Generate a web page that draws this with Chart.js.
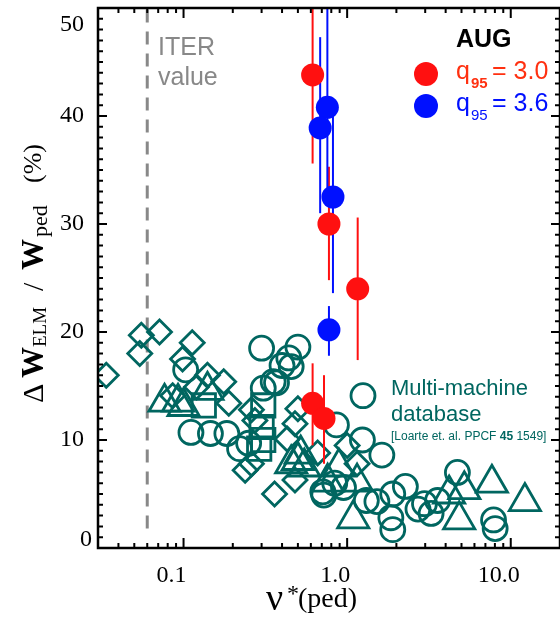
<!DOCTYPE html>
<html>
<head>
<meta charset="utf-8">
<script src="https://cdn.jsdelivr.net/npm/chart.js@4.4.0/dist/chart.umd.min.js"></script>
<style>
  html, body { margin: 0; padding: 0; overflow: hidden; background: #fff; }
</style>
</head>
<body>
<canvas id="elm-chart" width="560" height="625"></canvas>
<script>
// Multi-machine database (Loarte et al.)
const circNu = [0.103, 0.111, 0.146, 0.184, 0.22, 0.30, 0.50, 0.40, 0.455, 0.44, 0.353, 0.307, 0.37, 1.25, 0.86, 1.24, 1.63, 0.72, 0.95, 0.71, 2.27, 1.9, 1.52, 1.31, 1.85, 1.9, 2.71, 2.97, 3.57, 3.26, 4.72, 7.85, 8.03, 0.84, 0.25];
const circW  = [16.5, 10.7, 10.6, 10.6, 9.2, 18.5, 18.6, 16.9, 16.8, 17.6, 15.4, 14.8, 15.3, 14.1, 11.4, 10.0, 8.6, 4.9, 5.6, 5.2, 5.7, 5.0, 4.3, 4.4, 2.8, 1.7, 3.6, 4.1, 4.4, 3.2, 7.0, 2.6, 1.8, 6.0, 9.7];

const diamNu = [0.0337, 0.054, 0.0552, 0.0713, 0.113, 0.0986, 0.14, 0.176, 0.0858, 0.189, 0.26, 0.50, 0.48, 0.43, 0.238, 0.36, 0.48, 0.66, 1.0, 1.15, 0.273, 0.26, 0.12];
const diamW  = [16.0, 18.0, 19.7, 20.0, 19.0, 17.5, 16.0, 15.4, 14.1, 13.4, 12.8, 12.9, 11.5, 10.1, 7.2, 5.0, 6.3, 8.8, 9.5, 7.8, 11.8, 7.8, 14.9];

const triNu = [0.0765, 0.0925, 0.10, 0.14, 0.50, 0.455, 0.547, 0.89, 0.76, 1.15, 1.09, 7.67, 12.2, 5.2, 4.2, 4.84, 0.52];
const triW  = [13.5, 13.5, 13.1, 14.6, 8.1, 7.8, 7.5, 7.5, 6.1, 6.1, 2.7, 6.0, 4.3, 5.4, 5.0, 2.6, 8.7];

const sqNu = [0.133, 0.307, 0.30, 0.307, 0.29];
const sqW  = [13.2, 13.2, 11.2, 10.0, 9.2];

// AUG points with error bars
const augRedNu = [0.615, 0.774, 1.16, 0.615, 0.722];
const augRedW  = [43.8, 30.0, 24.0, 13.4, 12.0];
const augRedLo = [35.6, 24.8, 17.4, 9.5, 7.8];
const augRedHi = [50, 35.3, 30.6, 17.1, 16.0];

const augBlueNu = [0.757, 0.684, 0.819, 0.774];
const augBlueW  = [40.8, 38.9, 32.5, 20.2];
const augBlueLo = [33.0, 31.0, 23.6, 17.8];
const augBlueHi = [50, 47.3, 40.8, 22.4];

// ITER collisionality
const iterNu = 0.06;
const iterW = [1.8, 50];

// axis ticks
const xTickVals = [0.1, 1, 10];
const xTickText = ['0.1', '1.0', '10.0'];
const yTickVals = [0, 10, 20, 30, 40, 50];

const TEAL = '#006660';
const toPts = (xs, ys) => xs.map((x, i) => ({ x: x, y: ys[i] }));

function drawBars(ctx, chart, nu, lo, hi, color) {
    const xs = chart.scales.x, ys = chart.scales.y;
    ctx.strokeStyle = color;
    ctx.lineWidth = 2;
    nu.forEach((v, i) => {
        const px = xs.getPixelForValue(v);
        ctx.beginPath();
        ctx.moveTo(px, ys.getPixelForValue(lo[i]));
        ctx.lineTo(px, ys.getPixelForValue(hi[i]));
        ctx.stroke();
    });
}

const decorations = {
    id: 'decorations',
    beforeDatasetDraw(chart, args) {
        // error bars go under the AUG dots but over the database
        if (args.index !== 1) return;
        const ctx = chart.ctx;
        ctx.save();
        drawBars(ctx, chart, augRedNu, augRedLo, augRedHi, '#ff1010');
        drawBars(ctx, chart, augBlueNu, augBlueLo, augBlueHi, '#0010ff');
        ctx.restore();
    },
    afterDraw(chart) {
        const ctx = chart.ctx;
        const xs = chart.scales.x, ys = chart.scales.y;
        const { left, right, top, bottom } = chart.chartArea;
        ctx.save();

        // ticks pointing inward on all four sides
        ctx.strokeStyle = '#000';
        ctx.lineWidth = 2;
        for (let d = -2; d <= 1; d++) {
            for (let m = 1; m <= 9; m++) {
                const v = m * Math.pow(10, d);
                if (v < xs.min || v > xs.max) continue;
                const px = xs.getPixelForValue(v);
                const len = m === 1 ? 10 : 5;
                ctx.beginPath();
                ctx.moveTo(px, bottom); ctx.lineTo(px, bottom - len);
                ctx.moveTo(px, top); ctx.lineTo(px, top + len);
                ctx.stroke();
            }
        }
        for (let v = 0; v <= 50; v++) {
            const py = ys.getPixelForValue(v);
            const len = v % 10 === 0 ? 9 : 5;
            ctx.beginPath();
            ctx.moveTo(left, py); ctx.lineTo(left + len, py);
            ctx.moveTo(right, py); ctx.lineTo(right - len, py);
            ctx.stroke();
        }
        ctx.lineWidth = 2.5;
        ctx.strokeRect(left, top, right - left, bottom - top);

        // tick labels
        ctx.fillStyle = '#000';
        ctx.font = '24px "Liberation Serif", "DejaVu Serif", serif';
        ctx.textAlign = 'center';
        ctx.textBaseline = 'alphabetic';
        xTickVals.forEach((v, i) => {
            ctx.fillText(xTickText[i], xs.getPixelForValue(v) - 12, 582);
        });
        ctx.textAlign = 'right';
        ctx.textBaseline = 'middle';
        yTickVals.forEach(v => {
            let py = ys.getPixelForValue(v);
            let px = 84;
            if (v === 50) py = top + 17;
            if (v === 0) { py = bottom - 8; px = 92; }
            ctx.fillText(String(v), px, py);
        });

        // x title
        ctx.textAlign = 'left';
        ctx.textBaseline = 'alphabetic';
        ctx.font = '38px "Liberation Serif", serif';
        ctx.fillText('\u03bd', 266, 610);
        ctx.font = '24px "Liberation Serif", serif';
        ctx.fillText('*', 287, 601);
        ctx.font = '28px "Liberation Serif", serif';
        ctx.fillText('(ped)', 298, 607);

        // y title, rotated
        ctx.save();
        ctx.translate(43, 403);
        ctx.rotate(-Math.PI / 2);
        ctx.font = '30px "Liberation Serif", serif';
        ctx.fillText('\u0394', 0, 0);
        ctx.font = 'bold 31px "Liberation Serif", serif';
        ctx.fillText('W', 25, 0);
        ctx.font = '19px "Liberation Serif", serif';
        ctx.fillText('ELM', 56, 3);
        ctx.font = '30px "Liberation Serif", serif';
        ctx.fillText('/', 112, 0);
        ctx.font = 'bold 31px "Liberation Serif", serif';
        ctx.fillText('W', 133, 0);
        ctx.font = '22px "Liberation Serif", serif';
        ctx.fillText('ped', 166, 4);
        ctx.font = '26px "Liberation Serif", serif';
        ctx.fillText('(%)', 220, -2);
        ctx.restore();

        // ITER label
        ctx.fillStyle = '#888';
        ctx.font = '25px "Liberation Sans", Arial, sans-serif';
        ctx.fillText('ITER', 158, 55);
        ctx.fillText('value', 158, 85);

        // database label
        ctx.fillStyle = TEAL;
        ctx.font = '22px "Liberation Sans", Arial, sans-serif';
        ctx.fillText('Multi-machine', 391, 395);
        ctx.fillText('database', 391, 421);
        let tx = 391;
        [['[Loarte et. al. PPCF ', ''], ['45', 'bold '], [' 1549]', '']].forEach(([s, w]) => {
            ctx.font = w + '12px "Liberation Sans", Arial, sans-serif';
            ctx.fillText(s, tx, 440);
            tx += ctx.measureText(s).width;
        });

        // AUG legend
        ctx.fillStyle = '#000';
        ctx.font = 'bold 25px "Liberation Sans", Arial, sans-serif';
        ctx.fillText('AUG', 456, 47);
        const legend = [
            { y: 74, dot: '#ff1010', txt: '#ff3010', val: '= 3.0', sub: 'bold ' },
            { y: 106, dot: '#0010ff', txt: '#0010ff', val: '= 3.6', sub: '' }
        ];
        legend.forEach(l => {
            ctx.fillStyle = l.dot;
            ctx.beginPath();
            ctx.arc(426, l.y, 12, 0, Math.PI * 2);
            ctx.fill();
            ctx.fillStyle = l.txt;
            ctx.font = '25px "Liberation Sans", Arial, sans-serif';
            ctx.fillText('q', 456, l.y + 5);
            ctx.font = l.sub + '15px "Liberation Sans", Arial, sans-serif';
            ctx.fillText('95', 471, l.y + 14);
            ctx.font = '25px "Liberation Sans", Arial, sans-serif';
            ctx.fillText(l.val, 492, l.y + 5);
        });

        ctx.restore();
    }
};

const ctx = document.getElementById('elm-chart').getContext('2d');
new Chart(ctx, {
    type: 'scatter',
    data: {
        datasets: [
            { label: 'AUG q95=3.0', data: toPts(augRedNu, augRedW), pointStyle: 'circle', pointRadius: 11.5,
              backgroundColor: '#ff1010', borderColor: '#ff1010', borderWidth: 0 },
            { label: 'AUG q95=3.6', data: toPts(augBlueNu, augBlueW), pointStyle: 'circle', pointRadius: 11.5,
              backgroundColor: '#0010ff', borderColor: '#0010ff', borderWidth: 0 },
            { label: 'squares', data: toPts(sqNu, sqW), pointStyle: 'rect', pointRadius: 16.5,
              backgroundColor: 'rgba(0,0,0,0)', borderColor: TEAL, borderWidth: 2.8 },
            { label: 'triangles', data: toPts(triNu, triW), pointStyle: 'triangle', pointRadius: 18,
              backgroundColor: 'rgba(0,0,0,0)', borderColor: TEAL, borderWidth: 2.8 },
            { label: 'diamonds', data: toPts(diamNu, diamW), pointStyle: 'rectRot', pointRadius: 12,
              backgroundColor: 'rgba(0,0,0,0)', borderColor: TEAL, borderWidth: 2.8 },
            { label: 'circles', data: toPts(circNu, circW), pointStyle: 'circle', pointRadius: 12,
              backgroundColor: 'rgba(0,0,0,0)', borderColor: TEAL, borderWidth: 2.8 },
            { label: 'ITER', type: 'line', data: iterW.map(w => ({ x: iterNu, y: w })),
              showLine: true, borderColor: '#888', borderWidth: 3, borderDash: [13, 9], pointRadius: 0 }
        ]
    },
    options: {
        responsive: false,
        animation: false,
        // right edge of the frame sits just past the visible canvas, as in the original
        layout: { autoPadding: false, padding: { left: 98, top: 8, right: -7, bottom: 77 } },
        plugins: { legend: { display: false }, tooltip: { enabled: false } },
        scales: {
            x: { type: 'logarithmic', min: 0.03, max: 20, display: false },
            y: { type: 'linear', min: 0, max: 50, display: false }
        }
    },
    plugins: [decorations]
});
</script>
</body>
</html>
